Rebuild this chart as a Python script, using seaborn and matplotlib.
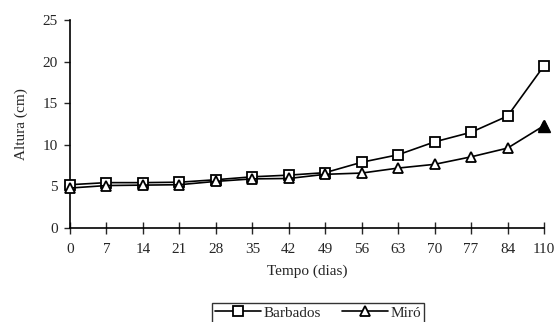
import pandas as pd
import numpy as np
import matplotlib.pyplot as plt
import seaborn as sns

sns.set_style("ticks")
plt.rcParams['font.family'] = ['Liberation Serif', 'DejaVu Serif']

# Data
days     = ['0', '7', '14', '21', '28', '35', '42', '49', '56', '63', '70', '77', '84', '110']
barbados = [5.2, 5.45, 5.45, 5.5, 5.8, 6.15, 6.35, 6.65, 7.9, 8.8, 10.35, 11.5, 13.45, 19.5]
miro     = [4.8, 5.1, 5.15, 5.2, 5.6, 5.9, 5.95, 6.45, 6.6, 7.2, 7.65, 8.55, 9.6, 12.3]

pos = np.arange(len(days))
df = pd.DataFrame({'pos': pos, 'Barbados': barbados, 'Miró': miro})

fig = plt.figure(figsize=(5.57, 3.22), dpi=100)
ax = fig.add_axes([0.1257, 0.292, 0.851, 0.646])

mk = dict(markersize=7.5, markerfacecolor='white', markeredgecolor='black',
          markeredgewidth=1.3, clip_on=False)
sns.lineplot(data=df, x='pos', y='Barbados', ax=ax, color='black', lw=1.2,
             marker='s', label='Barbados', zorder=3, **mk)
sns.lineplot(data=df, x='pos', y='Miró', ax=ax, color='black', lw=1.2,
             marker='^', label='Miró', zorder=4, **mk)
# last Miró point is drawn filled
last = df.iloc[[-1]]
ax.plot(last['pos'], last['Miró'], marker='^', markersize=8, color='black',
        linestyle='none', zorder=5, clip_on=False)

ax.set_xlim(0, len(days) - 1)
ax.set_ylim(0, 25)
ax.set_xticks(pos)
ax.set_xticklabels(days)
ax.set_yticks(np.arange(0, 26, 5))
ax.tick_params(axis='x', direction='inout', length=8, width=1, labelsize=11, pad=7)
ax.tick_params(axis='y', direction='out', length=4, width=1, labelsize=11, pad=5)
for side in ['top', 'right']:
    ax.spines[side].set_visible(False)
for side in ['left', 'bottom']:
    ax.spines[side].set_linewidth(1.2)
    ax.spines[side].set_color('black')

ax.set_xlabel('Tempo (dias)', fontsize=11, labelpad=6)
ax.set_ylabel('Altura (cm)', fontsize=11, labelpad=10)

leg = ax.legend(loc='upper center', bbox_to_anchor=(0.523, -0.36), ncol=2,
                frameon=True, fancybox=False, fontsize=11, handlelength=3.0,
                columnspacing=1.4, handletextpad=0.15, borderpad=0.2,
                borderaxespad=0, markerscale=0.95)
leg.get_frame().set_edgecolor('black')
leg.get_frame().set_linewidth(1)

plt.savefig('out.png', dpi=100)
